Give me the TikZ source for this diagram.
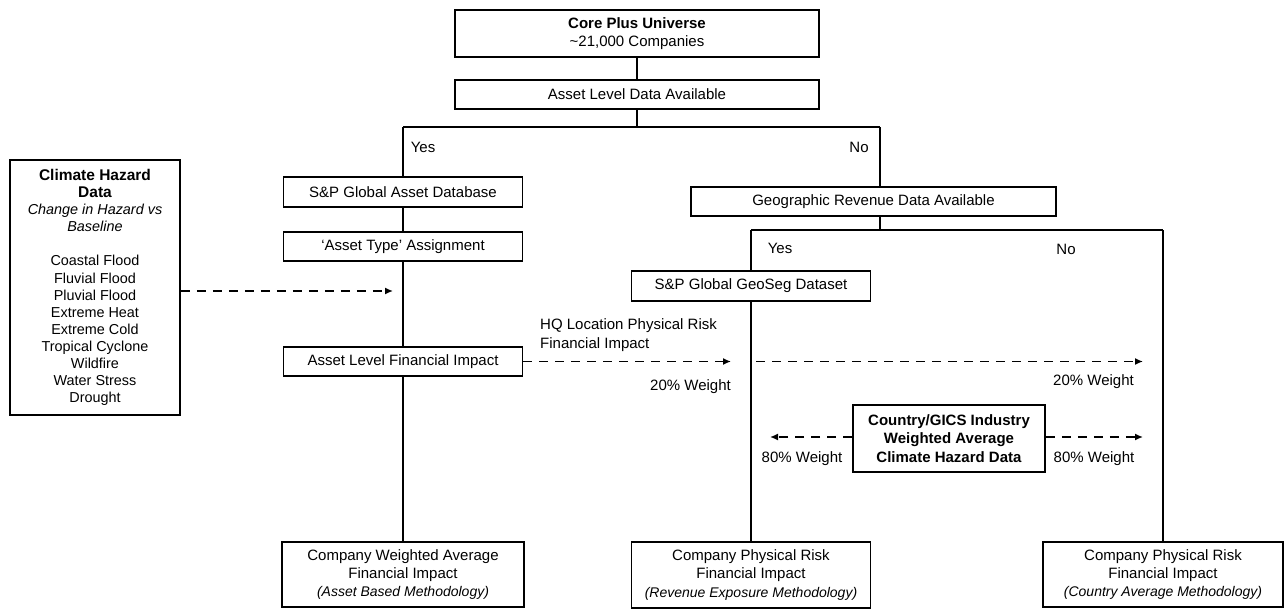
\documentclass[tikz,border=0pt]{standalone}
\usepackage{fontspec}
\setmainfont{Liberation Sans}
\usetikzlibrary{arrows.meta}
\newcommand\mainfs{\fontsize{15}{18.3}\selectfont}
\newcommand\itfs{\fontsize{14}{18.3}\selectfont\itshape}
\begin{document}
\begin{tikzpicture}[x=1pt,y=-1pt,
  box/.style={draw, line width=1.8pt, inner sep=0pt, align=center, font=\mainfs},
  conn/.style={line width=1.5pt},
  dsh/.style={line width=1.5pt, dash pattern=on 9pt off 7pt, -{Latex[length=8pt,width=7pt]}},
  lbl/.style={inner sep=0pt, font=\mainfs}]
\useasboundingbox (0,0) rectangle (1284,610);

% nodes
\node[box, minimum width=364pt, minimum height=47pt] (top) at (637,33.5) {\textbf{Core Plus Universe}\\\textasciitilde 21,000 Companies};
\node[box, minimum width=364pt, minimum height=29pt] (ald) at (637,94.5) {Asset Level Data Available};
\node[box, minimum width=239pt, minimum height=30pt] (spa) at (403,192) {S\&P Global Asset Database};
\node[box, minimum width=239pt, minimum height=29pt] (typ) at (403,246.5) {‘Asset Type’ Assignment};
\node[box, minimum width=239pt, minimum height=29pt] (alfi) at (403,361.5) {Asset Level Financial Impact};
\node[box, minimum width=242pt, minimum height=65pt] (cwa) at (403,574.5) {Company Weighted Average\\Financial Impact\\{\itfs (Asset Based Methodology)}};
\node[box, minimum width=170pt, minimum height=255pt, font=\fontsize{14.4}{17.1}\selectfont] (clim) at (95,287.5)
  {{\fontsize{15.5}{17.1}\selectfont\bfseries Climate Hazard}\\{\fontsize{15.5}{17.1}\selectfont\bfseries Data}\\\textit{Change in Hazard vs}\\\textit{Baseline}\\[17.1pt]
   Coastal Flood\\Fluvial Flood\\Pluvial Flood\\Extreme Heat\\Extreme Cold\\Tropical Cyclone\\Wildfire\\Water Stress\\Drought};
\node[box, minimum width=365pt, minimum height=29pt] (geo) at (873.5,201.5) {Geographic Revenue Data Available};
\node[box, minimum width=239pt, minimum height=30pt] (seg) at (751,286) {S\&P Global GeoSeg Dataset};
\node[box, minimum width=192pt, minimum height=67pt] (ctry) at (949,438.5) {\textbf{Country/GICS Industry}\\\textbf{Weighted Average}\\\textbf{Climate Hazard Data}};
\node[box, minimum width=239pt, minimum height=66pt] (cpr1) at (751,575) {Company Physical Risk\\Financial Impact\\{\itfs (Revenue Exposure Methodology)}};
\node[box, minimum width=240pt, minimum height=65pt] (cpr2) at (1163,574.5) {Company Physical Risk\\Financial Impact\\{\itfs (Country Average Methodology)}};

% labels
\node[lbl] (yes1) at (423,147) {Yes};
\node[lbl] (no1) at (859,147) {No};
\node[lbl] (yes2) at (780,248) {Yes};
\node[lbl] (no2) at (1066,249) {No};
\node[lbl, anchor=west, align=left] (hq) at (540,335) {HQ Location Physical Risk\\Financial Impact};
\node[lbl, anchor=east] (w1) at (731,387) {20\% Weight};
\node[lbl, anchor=east] (w2) at (1134,382) {20\% Weight};
\node[lbl] (w3) at (802,459) {80\% Weight};
\node[lbl] (w4) at (1094,459) {80\% Weight};

% tree connectors
\coordinate (bL) at (403,127);
\coordinate (bR) at (880,127);
\coordinate (cL) at (751,230);
\coordinate (cR) at (1163,230);
\coordinate (gB) at (880,230);
\draw[conn] (top) -- (ald);
\draw[conn] (ald.south) -- (ald.south |- bL);
\draw[conn] (bL) -- (bR);
\draw[conn] (bL) -- (spa.north);
\draw[conn] (spa) -- (typ);
\draw[conn] (typ) -- (alfi);
\draw[conn] (alfi) -- (cwa);
\draw[conn] (bR) -- (bR |- geo.north);
\draw[conn] (gB |- geo.south) -- (gB);
\draw[conn] (cL) -- (cR);
\draw[conn] (cL) -- (seg.north);
\draw[conn] (seg) -- (cpr1);
\draw[conn] (cR) -- (cpr2.north);

% dashed arrows
\coordinate (a1) at (393,291);
\coordinate (h1) at (731,361.5);
\coordinate (h2s) at (756,361.5);
\coordinate (h2e) at (1143,361.5);
\coordinate (c1) at (770,437);
\coordinate (c2) at (1143,437);
\draw[dsh] (clim.east |- a1) -- (a1);
\draw[dsh] (alfi.east) -- (h1);
\draw[dsh] (h2s) -- (h2e);
\draw[dsh] (ctry.west |- c1) -- (c1);
\draw[dsh] (ctry.east |- c2) -- (c2);
\end{tikzpicture}
\end{document}
